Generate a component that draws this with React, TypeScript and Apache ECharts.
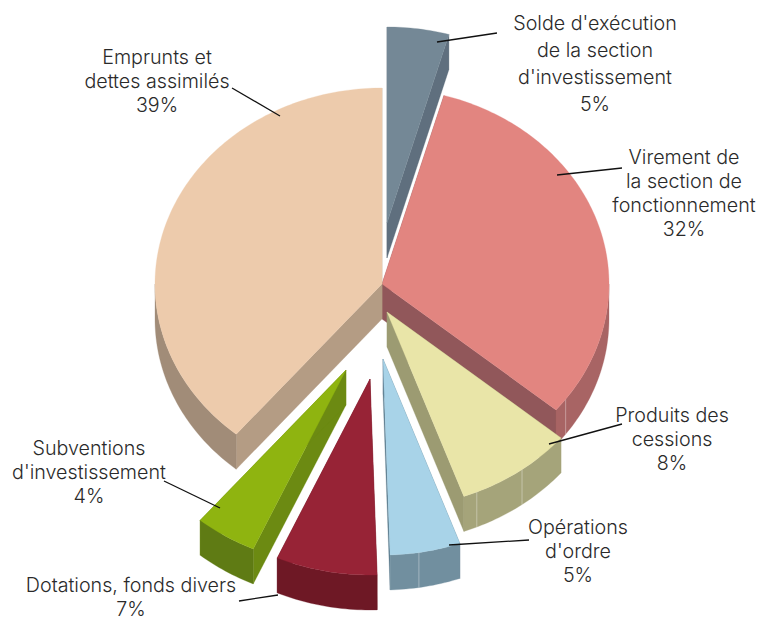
import React, { useEffect, useRef } from "react";
import * as echarts from "echarts";

// ---- data ----
const categories = [
  "Solde d'exécution\nde la section\nd'investissement",
  "Virement de\nla section de\nfonctionnement",
  "Produits des\ncessions",
  "Opérations\nd'ordre",
  "Dotations, fonds divers",
  "Subventions\nd'investissement",
  "Emprunts et\ndettes assimilés",
];
const shares = [4.4, 31.7, 8.4, 5.0, 7.2, 4.4, 38.9];
const percentLabels = ["5%", "32%", "8%", "5%", "7%", "4%", "39%"];

// ---- styling ----
const CX = 382, CY = 284, RX = 227, RY = 196, DEPTH = 35;
const explode = [[5, -61], [0, 0], [5, 28], [1, 75], [-12, 95], [-36, 86], [0, 0]];
const topColors = ["#748896", "#e28580", "#e9e5a8", "#a8d3e8", "#972336", "#8fb410", "#edcbac"];
const outerColors = ["#5f6f7e", "#a86464", "#a5a47a", "#718f9f", "#6e1825", "#5f7b14", "#a18c78"];
const wallColors = ["#5f6f7e", "#91575a", "#9c9b72", "#5f7f90", "#6e1825", "#6c8a12", "#b49c84"];
const seams: number[][] = [[], [126], [143.5, 156.7], [170.9], [], [], []];
const labelBoxes = [
  { x: 595, y: 23, lh: 27 },
  { x: 684, y: 157, lh: 24 },
  { x: 672, y: 415, lh: 24 },
  { x: 578, y: 527, lh: 24 },
  { x: 131, y: 585, lh: 24 },
  { x: 89, y: 448, lh: 24 },
  { x: 157, y: 57, lh: 24 },
];
const leaders = [
  [[497, 33], [437, 42]],
  [[622, 168], [557, 175]],
  [[622, 424], [549, 444]],
  [[529, 540], [449, 545]],
  [[239, 601], [278, 595]],
  [[164, 481], [220, 508]],
  [[232, 88], [280, 116]],
];

const total = shares.reduce((a, b) => a + b, 0);
const starts: number[] = [];
shares.reduce((acc, v, i) => {
  starts[i] = acc;
  return acc + v;
}, 0);

function pt(c: number[], deg: number, dy = 0) {
  const r = (deg * Math.PI) / 180;
  return [c[0] + RX * Math.sin(r), c[1] - RY * Math.cos(r) + dy];
}

function arc(c: number[], a0: number, a1: number, dy = 0) {
  const out: number[][] = [];
  const n = Math.max(2, Math.ceil(Math.abs(a1 - a0)));
  for (let k = 0; k <= n; k++) out.push(pt(c, a0 + ((a1 - a0) * k) / n, dy));
  return out;
}

function poly(points: number[][], fill: string) {
  return { type: "polygon", shape: { points }, style: { fill, stroke: fill, lineWidth: 0.3 } };
}

function renderSlice(params: any, api: any) {
  const i = params.dataIndex;
  const a0 = (api.value(1) / total) * 360;
  const a1 = ((api.value(1) + api.value(0)) / total) * 360;
  const c = [CX + explode[i][0], CY + explode[i][1]];
  const children: any[] = [];
  const wall = (deg: number) => {
    const e = pt(c, deg);
    return poly([c, e, [e[0], e[1] + DEPTH], [c[0], c[1] + DEPTH]], wallColors[i]);
  };
  children.push(wall(a0), wall(a1));
  const lo = Math.max(a0, 90);
  const hi = Math.min(a1, 270);
  if (hi > lo) {
    children.push(poly([...arc(c, lo, hi), ...arc(c, hi, lo, DEPTH)], outerColors[i]));
  }
  seams[i].forEach((deg) => {
    const p = pt(c, deg);
    children.push({
      type: "line",
      shape: { x1: p[0], y1: p[1], x2: p[0], y2: p[1] + DEPTH },
      style: { stroke: "rgba(255,255,255,0.35)", lineWidth: 1 },
    });
  });
  children.push(poly([c, ...arc(c, a0, a1)], topColors[i]));
  return { type: "group", children };
}

function renderLabel(params: any, api: any) {
  const i = params.dataIndex;
  const box = labelBoxes[i];
  const [a, b] = leaders[i];
  return {
    type: "group",
    children: [
      {
        type: "line",
        shape: { x1: a[0], y1: a[1], x2: b[0], y2: b[1] },
        style: { stroke: "#111", lineWidth: 1.3 },
      },
      {
        type: "text",
        x: box.x,
        y: box.y - box.lh / 2,
        style: {
          text: categories[i] + "\n" + percentLabels[i],
          fill: "#2a2a2a",
          fontFamily: "Inter",
          fontSize: 19.7,
          fontWeight: 300,
          lineHeight: box.lh,
          align: "center",
          verticalAlign: "top",
        },
      },
    ],
  };
}

export default function App() {
  const ref = useRef<HTMLDivElement>(null);
  useEffect(() => {
    const chart = echarts.init(ref.current!, undefined, { renderer: "svg" });
    chart.setOption({
      animation: false,
      backgroundColor: "#ffffff",
      series: [
        {
          type: "custom",
          coordinateSystem: "none",
          renderItem: renderSlice,
          data: shares.map((v, i) => ({ name: categories[i], value: [v, starts[i]] })),
          silent: true,
          z: 2,
        },
        {
          type: "custom",
          coordinateSystem: "none",
          renderItem: renderLabel,
          data: shares.map((v, i) => ({ name: categories[i], value: [v] })),
          silent: true,
          z: 3,
        },
      ],
    });
    return () => chart.dispose();
  }, []);
  return <div ref={ref} style={{ position: "absolute", left: 0, top: 0, width: 771, height: 621 }} />;
}
